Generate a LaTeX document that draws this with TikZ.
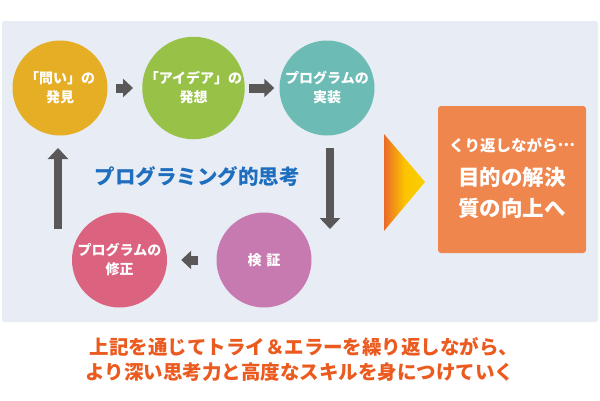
\documentclass[tikz,border=0pt]{standalone}
\usepackage{fontspec}
\setmainfont{Noto Sans CJK JP}
\usetikzlibrary{arrows.meta}
\definecolor{panel}{HTML}{E8EDF5}
\definecolor{cyellow}{HTML}{E6AE24}
\definecolor{cgreen}{HTML}{98C247}
\definecolor{cteal}{HTML}{6CBBB4}
\definecolor{cpink}{HTML}{DB6380}
\definecolor{cpurple}{HTML}{C67AB0}
\definecolor{arrowgray}{HTML}{595757}
\definecolor{boxorange}{HTML}{EF864E}
\definecolor{titleblue}{HTML}{1F6EBE}
\definecolor{textred}{HTML}{EB5A1E}
\definecolor{grorange}{HTML}{EA6A2A}
\definecolor{gryellow}{HTML}{FAD000}
\tikzset{
  stepcircle/.style={circle, minimum size=95pt, inner sep=0pt, text=white,
    font=\fontsize{14}{19}\selectfont\bfseries, align=center},
  hblock/.style={draw=arrowgray, line width=9pt,
    -{Triangle[length=10pt,width=18pt]}},
  vblock/.style={draw=arrowgray, line width=8.5pt,
    -{Triangle[length=11pt,width=20pt]}},
}
\begin{document}
\begin{tikzpicture}[x=1pt,y=-1pt]
\useasboundingbox (0,0) rectangle (600,400);
\fill[white] (0,0) rectangle (600,400);
\fill[panel, rounded corners=2pt] (2,21) rectangle (598,322);

\node[stepcircle, fill=cyellow] (c1) at (60,88) {「問い」の\\発見};
\node[stepcircle, fill=cgreen] (c2) at (193.5,88) {「アイデア」の\\発想};
\node[stepcircle, fill=cteal] (c3) at (327,88) {プログラムの\\実装};
\node[stepcircle, fill=cpurple] (c5) at (264,260) {検\hspace{0.35em}証};
\node[stepcircle, fill=cpink] (c4) at (119.5,260) {プログラムの\\修正};

\coordinate (d1) at (330,148);
\coordinate (d2) at (330,229);
\coordinate (u1) at (58,229);
\coordinate (u2) at (58,148);

\draw[hblock, shorten <=8pt, shorten >=9pt] (c1) -- (c2);
\draw[hblock, shorten <=4pt, shorten >=5pt] (c2) -- (c3);
\draw[vblock] (d1) -- (d2);
\draw[hblock, shorten <=18pt, shorten >=14pt] (c5) -- (c4);
\draw[vblock] (u1) -- (u2);

\node[font=\fontsize{20.5}{24}\selectfont\bfseries, text=titleblue] (title) at (197,177) {プログラミング的思考};

\shade[left color=grorange, right color=gryellow, middle color=gryellow!85!orange]
  (384,134) -- (425,182) -- (384,231) -- cycle;

\node[fill=boxorange, rounded corners=3pt, minimum width=148pt, minimum height=147pt,
  inner sep=0pt] (goal) at (512,179.5) {};
\node[text=white, font=\fontsize{15.5}{18}\selectfont\bfseries] (g1) at (512,145) {くり返しながら\raisebox{0.3em}{…}};
\node[text=white, font=\fontsize{21.5}{26}\selectfont\bfseries] (g2) at (512,177) {目的の解決};
\node[text=white, font=\fontsize{21.5}{26}\selectfont\bfseries] (g3) at (512,208) {質の向上へ};

\node[text=textred, font=\fontsize{19.5}{22}\selectfont\bfseries] (b1) at (304,347) {上記を通じてトライ＆エラーを繰り返しながら、};
\node[text=textred, font=\fontsize{19.5}{22}\selectfont\bfseries] (b2) at (300,372) {より深い思考力と高度なスキルを身につけていく};
\end{tikzpicture}
\end{document}
